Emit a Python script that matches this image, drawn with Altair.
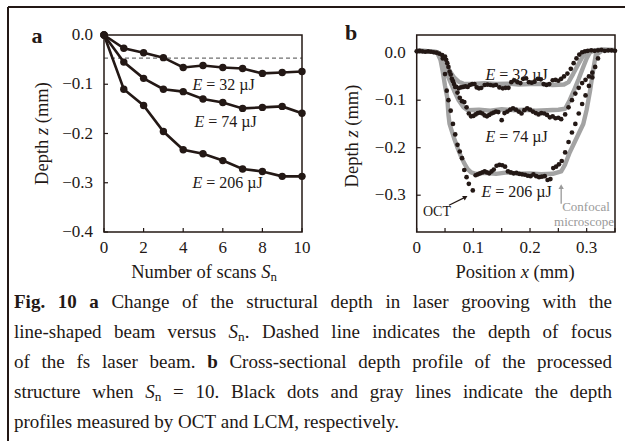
import altair as alt
import pandas as pd

INK = "#231815"
GRAY = "#a3a3a3"
LABEL_GRAY = "#9a9a9a"
FONT = "Liberation Serif"

# ---------------- data: panel a ----------------
scans = [0, 1, 2, 3, 4, 5, 6, 7, 8, 9, 10]
depth_32 = [0.0, -0.027, -0.036, -0.046, -0.066, -0.062, -0.066, -0.068, -0.078, -0.076, -0.074]
depth_74 = [0.0, -0.055, -0.088, -0.110, -0.115, -0.130, -0.137, -0.149, -0.147, -0.145, -0.159]
depth_206 = [0.0, -0.110, -0.143, -0.196, -0.233, -0.241, -0.255, -0.272, -0.277, -0.287, -0.287]
focus_depth = -0.047

# ---------------- data: panel b (confocal microscope, gray lines) ----------------
conf32_x = [0.000, 0.020, 0.036, 0.042, 0.050, 0.058, 0.066, 0.074, 0.082, 0.100, 0.120, 0.140, 0.160,
            0.180, 0.200, 0.220, 0.240, 0.260, 0.268, 0.276, 0.284, 0.292, 0.300, 0.320, 0.350]
conf32_z = [0.004, 0.003, 0.001, -0.008, -0.022, -0.038, -0.052, -0.061, -0.065, -0.066, -0.064, -0.066, -0.065,
            -0.067, -0.066, -0.066, -0.068, -0.067, -0.062, -0.045, -0.027, -0.010, 0.002, 0.006, 0.005]
conf74_x = [0.000, 0.020, 0.036, 0.042, 0.050, 0.058, 0.066, 0.074, 0.082, 0.090, 0.110, 0.130, 0.150, 0.170,
            0.190, 0.210, 0.230, 0.250, 0.262, 0.270, 0.278, 0.286, 0.294, 0.300, 0.306, 0.320, 0.350]
conf74_z = [0.004, 0.003, 0.001, -0.012, -0.035, -0.058, -0.080, -0.100, -0.114, -0.121, -0.120, -0.122, -0.119,
            -0.121, -0.120, -0.122, -0.121, -0.120, -0.118, -0.100, -0.078, -0.055, -0.030, -0.012, 0.001, 0.006, 0.005]
conf206_x = [0.000, 0.020, 0.036, 0.042, 0.046, 0.050, 0.054, 0.056, 0.058, 0.062, 0.066, 0.072, 0.078, 0.084,
             0.090, 0.096, 0.104, 0.120, 0.140, 0.160, 0.180, 0.200, 0.220, 0.240, 0.255, 0.262, 0.270, 0.278,
             0.286, 0.294, 0.300, 0.306, 0.311, 0.316, 0.330, 0.350]
conf206_z = [0.004, 0.003, 0.001, -0.015, -0.040, -0.070, -0.095, -0.130, -0.150, -0.165, -0.180, -0.200, -0.218,
             -0.233, -0.245, -0.252, -0.255, -0.253, -0.255, -0.252, -0.255, -0.254, -0.256, -0.255, -0.250, -0.235,
             -0.210, -0.190, -0.170, -0.150, -0.120, -0.080, -0.040, -0.005, 0.007, 0.006]

# ---------------- data: panel b (OCT, black dots) ----------------
oct32_x = [0.000, 0.005, 0.010, 0.015, 0.020, 0.025, 0.030, 0.035, 0.040, 0.045, 0.050, 0.054, 0.058, 0.062,
           0.066, 0.070, 0.074, 0.078, 0.082, 0.086, 0.090, 0.094, 0.098, 0.102, 0.106, 0.110, 0.114, 0.120,
           0.125, 0.130, 0.135, 0.140, 0.146, 0.152, 0.157, 0.162, 0.167, 0.172, 0.178, 0.183, 0.188, 0.193,
           0.198, 0.203, 0.208, 0.214, 0.219, 0.224, 0.229, 0.234, 0.240, 0.245, 0.250, 0.255, 0.260, 0.266,
           0.272, 0.277, 0.282, 0.287, 0.292, 0.297, 0.302, 0.308, 0.314, 0.320, 0.326, 0.332, 0.338, 0.344, 0.350]
oct32_z = [0.003, 0.004, 0.003, 0.002, 0.003, 0.002, 0.001, 0.000, -0.002, -0.005, -0.008, -0.022, -0.040, -0.055,
           -0.066, -0.072, -0.075, -0.073, -0.072, -0.071, -0.072, -0.068, -0.066, -0.066, -0.073, -0.075, -0.074,
           -0.068, -0.067, -0.068, -0.069, -0.068, -0.073, -0.075, -0.074, -0.074, -0.062, -0.058, -0.062, -0.064,
           -0.055, -0.054, -0.062, -0.063, -0.061, -0.055, -0.056, -0.066, -0.068, -0.066, -0.058, -0.057, -0.059,
           -0.055, -0.050, -0.044, -0.034, -0.022, -0.012, -0.004, 0.001, 0.003, 0.004, 0.005, 0.004, 0.005, 0.006,
           0.004, 0.005, 0.005, 0.004]
oct74_x = [0.052, 0.056, 0.060, 0.064, 0.068, 0.072, 0.076, 0.080, 0.084, 0.088, 0.092, 0.096, 0.100, 0.104,
           0.108, 0.112, 0.116, 0.120, 0.124, 0.128, 0.132, 0.136, 0.140, 0.144, 0.150, 0.155, 0.160, 0.165,
           0.170, 0.175, 0.180, 0.185, 0.190, 0.195, 0.200, 0.205, 0.210, 0.215, 0.220, 0.225, 0.230, 0.235,
           0.240, 0.245, 0.250, 0.255, 0.262, 0.268, 0.274, 0.280, 0.286, 0.292, 0.298, 0.304, 0.310, 0.315, 0.320]
oct74_z = [-0.015, -0.030, -0.046, -0.060, -0.072, -0.084, -0.095, -0.102, -0.104, -0.115, -0.128, -0.134, -0.133,
           -0.130, -0.127, -0.126, -0.128, -0.132, -0.134, -0.131, -0.128, -0.126, -0.124, -0.125, -0.142, -0.127,
           -0.124, -0.120, -0.117, -0.120, -0.124, -0.128, -0.121, -0.117, -0.120, -0.124, -0.127, -0.130, -0.127,
           -0.128, -0.131, -0.136, -0.134, -0.138, -0.137, -0.140, -0.130, -0.115, -0.100, -0.086, -0.074, -0.064,
           -0.057, -0.050, -0.042, -0.030, -0.012]
oct206_x = [0.046, 0.050, 0.053, 0.056, 0.060, 0.064, 0.068, 0.072, 0.076, 0.080, 0.084, 0.088, 0.092, 0.099,
            0.104, 0.108, 0.112, 0.116, 0.120, 0.124, 0.128, 0.132, 0.136, 0.141, 0.146, 0.151, 0.156, 0.161,
            0.166, 0.171, 0.176, 0.181, 0.186, 0.191, 0.196, 0.201, 0.206, 0.211, 0.216, 0.221, 0.226, 0.231,
            0.236, 0.241, 0.246, 0.251, 0.256, 0.262, 0.268, 0.274, 0.280, 0.286, 0.292, 0.298, 0.304, 0.310]
oct206_z = [-0.012, -0.045, -0.080, -0.100, -0.122, -0.150, -0.172, -0.194, -0.208, -0.222, -0.247, -0.262, -0.276,
            -0.290, -0.258, -0.256, -0.254, -0.252, -0.250, -0.252, -0.254, -0.250, -0.246, -0.238, -0.236, -0.237,
            -0.240, -0.250, -0.252, -0.254, -0.253, -0.255, -0.256, -0.257, -0.259, -0.260, -0.256, -0.260, -0.262,
            -0.261, -0.260, -0.268, -0.266, -0.243, -0.240, -0.235, -0.228, -0.210, -0.188, -0.168, -0.150, -0.128,
            -0.108, -0.090, -0.070, -0.052]

# ---------------- axis ticks and tick labels ----------------
a_x_ticks = [0, 2, 4, 6, 8, 10]
a_x_labels = ["0", "2", "4", "6", "8", "10"]
a_y_ticks = [0.0, -0.1, -0.2, -0.3, -0.4]
a_y_labels = ["0.0", "\u22120.1", "\u22120.2", "\u22120.3", "\u22120.4"]
b_x_label_pos = [0, 0.1, 0.2, 0.3]
b_x_labels = ["0", "0.1", "0.2", "0.3"]
b_x_ticks = [0, 0.05, 0.1, 0.15, 0.2, 0.25, 0.3, 0.35]
b_y_ticks = [0.0, -0.1, -0.2, -0.3]
b_y_labels = ["0.0", "\u22120.1", "\u22120.2", "\u22120.3"]

# ---------------- text ----------------
caption_lines = [
    "b:Fig. b:10 b:a Change of the structural depth in laser grooving with the",
    "line-shaped beam versus i:S|s:n|. Dashed line indicates the depth of focus",
    "of the fs laser beam. b:b Cross-sectional depth profile of the processed",
    "structure when i:S|s:n = 10. Black dots and gray lines indicate the depth",
    "profiles measured by OCT and LCM, respectively.",
]

# ---------------- layout (pixels) ----------------
W, H = 625, 441
TOP, BOT = 35, 232
A_X0, A_X1 = 104, 302
B_X0, B_X1 = 416.7, 615
A_XD, A_YD = [0, 10], [-0.4, 0.0]
B_XD, B_YD = [0, 0.35], [-0.3775, 0.0373]

sxa = alt.Scale(domain=A_XD, range=[A_X0, A_X1], nice=False, zero=False)
sya = alt.Scale(domain=A_YD, range=[BOT, TOP], nice=False, zero=False)
sxb = alt.Scale(domain=B_XD, range=[B_X0, B_X1], nice=False, zero=False)
syb = alt.Scale(domain=B_YD, range=[BOT, TOP], nice=False, zero=False)

dummy = pd.DataFrame({"k": [0]})


def xd(v):
    return alt.XDatum(v, axis=None)


def yd(v):
    return alt.YDatum(v, axis=None)


def tick_layers(sx, sy, xdom, ydom, xt, yt, xlab_pos, xlab, ylab):
    tx = alt.Chart(pd.DataFrame({"t": xt})).mark_rule(color=INK, strokeWidth=1.2, y2Offset=-4).encode(
        x=alt.X("t:Q", scale=sx, axis=None), y=yd(ydom[0]), y2=alt.datum(ydom[0]))
    ty = alt.Chart(pd.DataFrame({"t": yt})).mark_rule(color=INK, strokeWidth=1.2, x2Offset=4).encode(
        y=alt.Y("t:Q", scale=sy, axis=None), x=xd(xdom[0]), x2=alt.datum(xdom[0]))
    lx = alt.Chart(pd.DataFrame({"t": xlab_pos, "lab": xlab})).mark_text(
        font=FONT, fontSize=17, color=INK, align="center", baseline="middle", dy=16).encode(
        x=alt.X("t:Q", scale=sx, axis=None), y=yd(ydom[0]), text="lab:N")
    ly = alt.Chart(pd.DataFrame({"t": yt, "lab": ylab})).mark_text(
        font=FONT, fontSize=17, color=INK, align="right", baseline="middle", dx=-11).encode(
        y=alt.Y("t:Q", scale=sy, axis=None), x=xd(xdom[0]), text="lab:N")
    frame = alt.Chart(dummy).mark_rect(fillOpacity=0, stroke=INK, strokeWidth=1.5).encode(
        x=xd(xdom[0]), x2=alt.datum(xdom[1]), y=yd(ydom[1]), y2=alt.datum(ydom[0]))
    return [tx, ty, lx, ly, frame]


# ---------------- panel a ----------------
dfa = pd.DataFrame({
    "S": scans * 3,
    "z": depth_32 + depth_74 + depth_206,
    "E": ["32"] * len(scans) + ["74"] * len(scans) + ["206"] * len(scans),
})

a_dash = alt.Chart(pd.DataFrame({"z": [focus_depth]})).mark_rule(
    color="#6f6f6f", strokeWidth=1.2, strokeDash=[4, 3]
).encode(y=alt.Y("z:Q", scale=sya, axis=None), x=xd(0), x2=alt.datum(10))

a_lines = alt.Chart(dfa).mark_line(color=INK, strokeWidth=2.6).encode(
    x=alt.X("S:Q", scale=sxa, axis=None),
    y=alt.Y("z:Q", scale=sya, axis=None),
    detail="E:N",
)
a_points = alt.Chart(dfa).mark_point(filled=True, color=INK, size=55, opacity=1).encode(
    x=alt.X("S:Q", scale=sxa, axis=None), y=alt.Y("z:Q", scale=sya, axis=None)
)
panel_a = alt.layer(a_dash, a_lines, a_points,
                    *tick_layers(sxa, sya, A_XD, A_YD, a_x_ticks, a_y_ticks, a_x_ticks, a_x_labels, a_y_labels))

# ---------------- panel b ----------------
dfc = pd.DataFrame({
    "x": conf32_x + conf74_x + conf206_x,
    "z": conf32_z + conf74_z + conf206_z,
    "E": ["32"] * len(conf32_x) + ["74"] * len(conf74_x) + ["206"] * len(conf206_x),
})
dfo = pd.DataFrame({
    "x": oct32_x + oct74_x + oct206_x,
    "z": oct32_z + oct74_z + oct206_z,
})

b_conf = alt.Chart(dfc).mark_line(color=GRAY, strokeWidth=4.4, strokeJoin="round").encode(
    x=alt.X("x:Q", scale=sxb, axis=None),
    y=alt.Y("z:Q", scale=syb, axis=None),
    detail="E:N",
)
b_oct = alt.Chart(dfo).mark_circle(color=INK, size=22, opacity=1).encode(
    x=alt.X("x:Q", scale=sxb, axis=None), y=alt.Y("z:Q", scale=syb, axis=None)
)
b_oct_arrow = alt.Chart(dummy).mark_rule(color=INK, strokeWidth=1.2).encode(
    x=xd(0.057), y=yd(-0.321), x2=alt.datum(0.086), y2=alt.datum(-0.304)
)
b_oct_head = alt.Chart(dummy).mark_point(shape="triangle-up", angle=60, size=28, filled=True, color=INK,
                                         opacity=1).encode(x=xd(0.086), y=yd(-0.304))
b_conf_arrow = alt.Chart(dummy).mark_rule(color=LABEL_GRAY, strokeWidth=1.3).encode(
    x=xd(0.255), y=yd(-0.318), x2=alt.datum(0.255), y2=alt.datum(-0.284)
)
b_conf_head = alt.Chart(dummy).mark_point(shape="triangle-up", size=28, filled=True, color=LABEL_GRAY,
                                          opacity=1).encode(x=xd(0.255), y=yd(-0.282))
panel_b = alt.layer(b_conf, b_oct, b_oct_arrow, b_oct_head, b_conf_arrow, b_conf_head,
                    *tick_layers(sxb, syb, B_XD, B_YD, b_x_ticks, b_y_ticks, b_x_label_pos, b_x_labels,
                                 b_y_labels))

# ---------------- text layout helpers (Times metrics) ----------------
REG, BOLD, ITAL = {}, {}, {}
for chars, w in [("0123456789bdghknopquvxyµ", 500), ("acez", 444), ("fr-()I", 333), ("ijlt", 278),
                 ("sJ", 389), ("m", 778), ("wADGHKNOQUVXY", 722), ("BCR", 667), ("ELTZ", 611),
                 ("FPS", 556), ("M", 889), ("W", 944), (" .,", 250), ("=", 564)]:
    for c in chars:
        REG[c] = w
BOLD.update(REG)
BOLD.update({"F": 611, "a": 500, "b": 556, "i": 278, "g": 500})
ITAL.update(REG)
ITAL.update({"S": 500, "E": 611, "n": 500, "z": 389, "x": 444})


def parse_token(tok):
    segs = []
    for part in tok.split("|"):
        if len(part) > 2 and part[1] == ":" and part[0] in "bis":
            segs.append((part[2:], part[0]))
        else:
            segs.append((part, "r"))
    return segs


def seg_width(text, style, size):
    table = BOLD if style == "b" else ITAL if style == "i" else REG
    sz = size * 0.7 if style == "s" else size
    return sum(table.get(c, 500) for c in text) * sz / 1000.0


def word_width(segs, size):
    return sum(seg_width(t, s, size) for t, s in segs)


rows = []


def emit(words, start, fixed, size, gap, angle=0, color=INK):
    pos = start
    for segs in words:
        for text, style in segs:
            sz = size * 0.7 if style == "s" else size
            st = "r" if style == "s" else style
            shift = size * 0.28 if style == "s" else 0
            if angle == 0:
                rows.append(dict(x=pos, y=fixed + shift, text=text, style=st, size=sz, angle=0, color=color))
                pos += seg_width(text, style, size)
            else:
                rows.append(dict(x=fixed + shift, y=pos, text=text, style=st, size=sz, angle=270, color=color))
                pos -= seg_width(text, style, size)
        pos = pos + gap if angle == 0 else pos - gap


def centered(text, cx, cy, size, angle=0, color=INK):
    words = [parse_token(t) for t in text.split(" ")]
    gap = 0.25 * size
    total = sum(word_width(w, size) for w in words) + gap * (len(words) - 1)
    if angle == 0:
        emit(words, cx - total / 2, cy, size, gap, 0, color)
    else:
        emit(words, cy + total / 2, cx, size, gap, 270, color)


def justified(text, x0, x1, y, size, last=False):
    words = [parse_token(t) for t in text.split(" ")]
    total = sum(word_width(w, size) for w in words)
    gap = 0.25 * size if last else (x1 - x0 - total) / (len(words) - 1)
    emit(words, x0, y, size, gap)


# panel letters
centered("b:a", 37, 36, 22)
centered("b:b", 351, 33, 22)
# axis titles
centered("Number of scans i:S|s:n", 204, 272, 18.5)
centered("Position i:x (mm)", 515, 272, 18.5)
centered("Depth i:z (mm)", 42, 133.5, 18.5, angle=270)
centered("Depth i:z (mm)", 352, 136, 18.5, angle=270)
# energy labels
for (cx, cy), lab in zip([(223, 85), (225, 122), (227, 183), (516, 75), (516, 137), (516, 192)],
                         ["32", "74", "206", "32", "74", "206"]):
    centered("i:E = " + lab + " µJ", cx, cy, 16)
centered("OCT", 437, 212, 14)
centered("Confocal", 586, 207, 13, color=LABEL_GRAY)
centered("microscope", 584, 222, 13, color=LABEL_GRAY)
# caption
for i, line in enumerate(caption_lines):
    justified(line, 14, 612, 302 + 30 * i, 19, last=(i == len(caption_lines) - 1))

dft = pd.DataFrame(rows)

text_layers = []
for st, weight, fstyle in [("r", "normal", "normal"), ("b", "bold", "normal"), ("i", "normal", "italic")]:
    text_layers.append(
        alt.Chart(dft).transform_filter(alt.datum.style == st).mark_text(
            font=FONT, fontWeight=weight, fontStyle=fstyle, align="left", baseline="middle"
        ).encode(
            x=alt.X("x:Q", scale=None, axis=None),
            y=alt.Y("y:Q", scale=None, axis=None),
            text="text:N",
            size=alt.Size("size:Q", scale=None, legend=None),
            angle=alt.Angle("angle:Q", scale=None, legend=None),
            color=alt.Color("color:N", scale=None, legend=None),
        )
    )
texts = alt.layer(*text_layers)

# outer figure border (top and left)
border_top = alt.Chart(dummy).mark_rule(color=INK, strokeWidth=2).encode(
    x=alt.value(8), x2=alt.value(W), y=alt.value(7))
border_left = alt.Chart(dummy).mark_rule(color=INK, strokeWidth=2).encode(
    x=alt.value(8), y=alt.value(7), y2=alt.value(H))

chart = alt.layer(panel_a, panel_b, texts, border_top, border_left).resolve_scale(
    x="independent", y="independent"
).properties(
    width=W, height=H, autosize=alt.AutoSizeParams(type="none"), padding=0, background="white"
).configure_view(stroke=None)

chart.save("out.html", embed_options={"renderer": "svg", "actions": False})
